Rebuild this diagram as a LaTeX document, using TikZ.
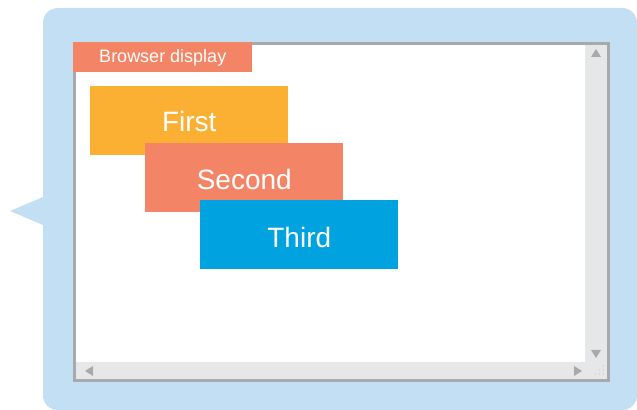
\documentclass[tikz,border=0pt]{standalone}
\usepackage{fontspec}
\setmainfont{Liberation Sans}
\definecolor{bubble}{HTML}{C2DFF4}
\definecolor{salmon}{HTML}{F48466}
\definecolor{orangeb}{HTML}{FBB034}
\definecolor{blueb}{HTML}{00A2DF}
\definecolor{frame}{HTML}{A7A9AC}
\definecolor{scroll}{HTML}{E6E7E8}
\begin{document}
\begin{tikzpicture}[x=0.75pt,y=-0.75pt,
  box/.style={anchor=north west,inner sep=0pt,minimum width=148.5pt,minimum height=51.75pt},
  boxtext/.style={anchor=base,inner sep=0pt,text=white,font=\fontsize{21}{24}\selectfont}]
\useasboundingbox (0,0) rectangle (637,410);
% speech bubble
\fill[bubble,rounded corners=11pt] (43,8) rectangle (637,410);
\fill[bubble] (43,197) -- (10,211) -- (43,225) -- cycle;
% browser window
\fill[white] (73,42) rectangle (610,382);
\fill[scroll] (585,45) rectangle (607,379);
\fill[scroll] (76,362) rectangle (607,379);
\draw[frame,line width=2.2pt] (74.5,43.5) rectangle (608.5,380.5);
% scroll arrows
\fill[frame] (591,57) -- (601,57) -- (596,49) -- cycle;
\fill[frame] (591,350) -- (601,350) -- (596,358) -- cycle;
\fill[frame] (93,366) -- (93,376) -- (85,371) -- cycle;
\fill[frame] (574,366) -- (574,376) -- (582,371) -- cycle;
% resize grip
\foreach \p in {(603,366),(603,370),(603,374),(599,370),(599,374),(595,374)}
  \fill[frame] \p circle (0.5);
% label
\node[anchor=north west,inner sep=0pt,minimum width=134.25pt,minimum height=22.5pt,fill=salmon] (lbl) at (73,42) {};
\node[anchor=base,inner sep=0pt,text=white,font=\fontsize{13.5}{15}\selectfont,yshift=-4.3pt] (lbltext) at (lbl.center) {Browser display};
% boxes
\node[box,fill=orangeb] (first) at (90,86) {};
\node[boxtext,yshift=-7.9pt] (firsttext) at (first.center) {First};
\node[box,fill=salmon] (second) at (145,143) {};
\node[boxtext,yshift=-8.9pt] (secondtext) at (second.center) {Second};
\node[box,fill=blueb] (third) at (200,200) {};
\node[boxtext,yshift=-9.9pt] (thirdtext) at (third.center) {Third};
\end{tikzpicture}
\end{document}
